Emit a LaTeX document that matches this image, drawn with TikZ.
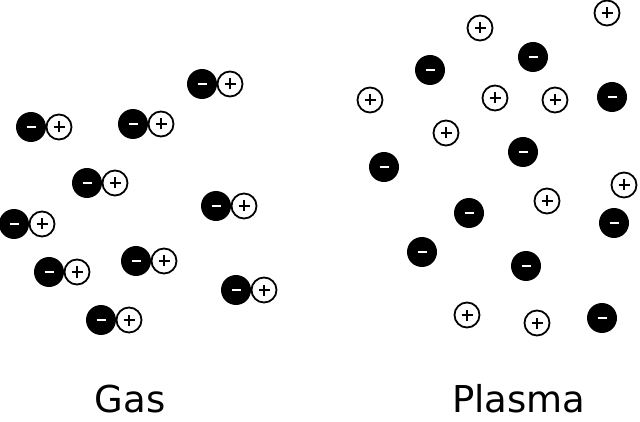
\documentclass[tikz,border=0pt]{standalone}
\usepackage{fontspec}
\setmainfont{DejaVu Sans}
\begin{document}
\begin{tikzpicture}[x=1pt,y=-1pt,
  negion/.style={circle,fill=black,minimum size=30pt,inner sep=0pt,
    path picture={\draw[white,line width=2.2pt] ([xshift=-4.5pt]path picture bounding box.center)--([xshift=4.5pt]path picture bounding box.center);}},
  posion/.style={circle,draw=black,line width=1.8pt,fill=white,minimum size=25pt,inner sep=0pt,
    path picture={\draw[black,line width=1.8pt] ([xshift=-5.5pt]path picture bounding box.center)--([xshift=5.5pt]path picture bounding box.center) ([yshift=-5.5pt]path picture bounding box.center)--([yshift=5.5pt]path picture bounding box.center);}},
  lbl/.style={font=\fontsize{37}{40}\selectfont,anchor=base,inner sep=0pt}]
\useasboundingbox (0,0) rectangle (640,422);
\foreach \n/\x/\y in {1/31/127,2/133/124,3/202/84,4/87/183,5/14/224,6/216/206,7/49/272,8/136/261,9/236/290,10/101/320}{
  \node[negion] (gn\n) at (\x,\y) {};
  \node[posion] (gp\n) at (\x+28,\y) {};
}
\foreach \n/\x/\y in {1/430/70,2/533/57,3/612/97,4/384/167,5/523/152,6/469/213,7/614/223,8/422/252,9/526/266,10/602/318}{
  \node[negion] (pn\n) at (\x,\y) {};
}
\foreach \n/\x/\y in {1/480/28,2/607/13,3/370/100,4/495/98,5/555/100,6/446/133,7/624/185,8/547/201,9/467/315,10/537/323}{
  \node[posion] (pp\n) at (\x,\y) {};
}
\node[lbl] (gas) at (130,412) {Gas};
\node[lbl] (plasma) at (519,412) {Plasma};
\end{tikzpicture}
\end{document}
